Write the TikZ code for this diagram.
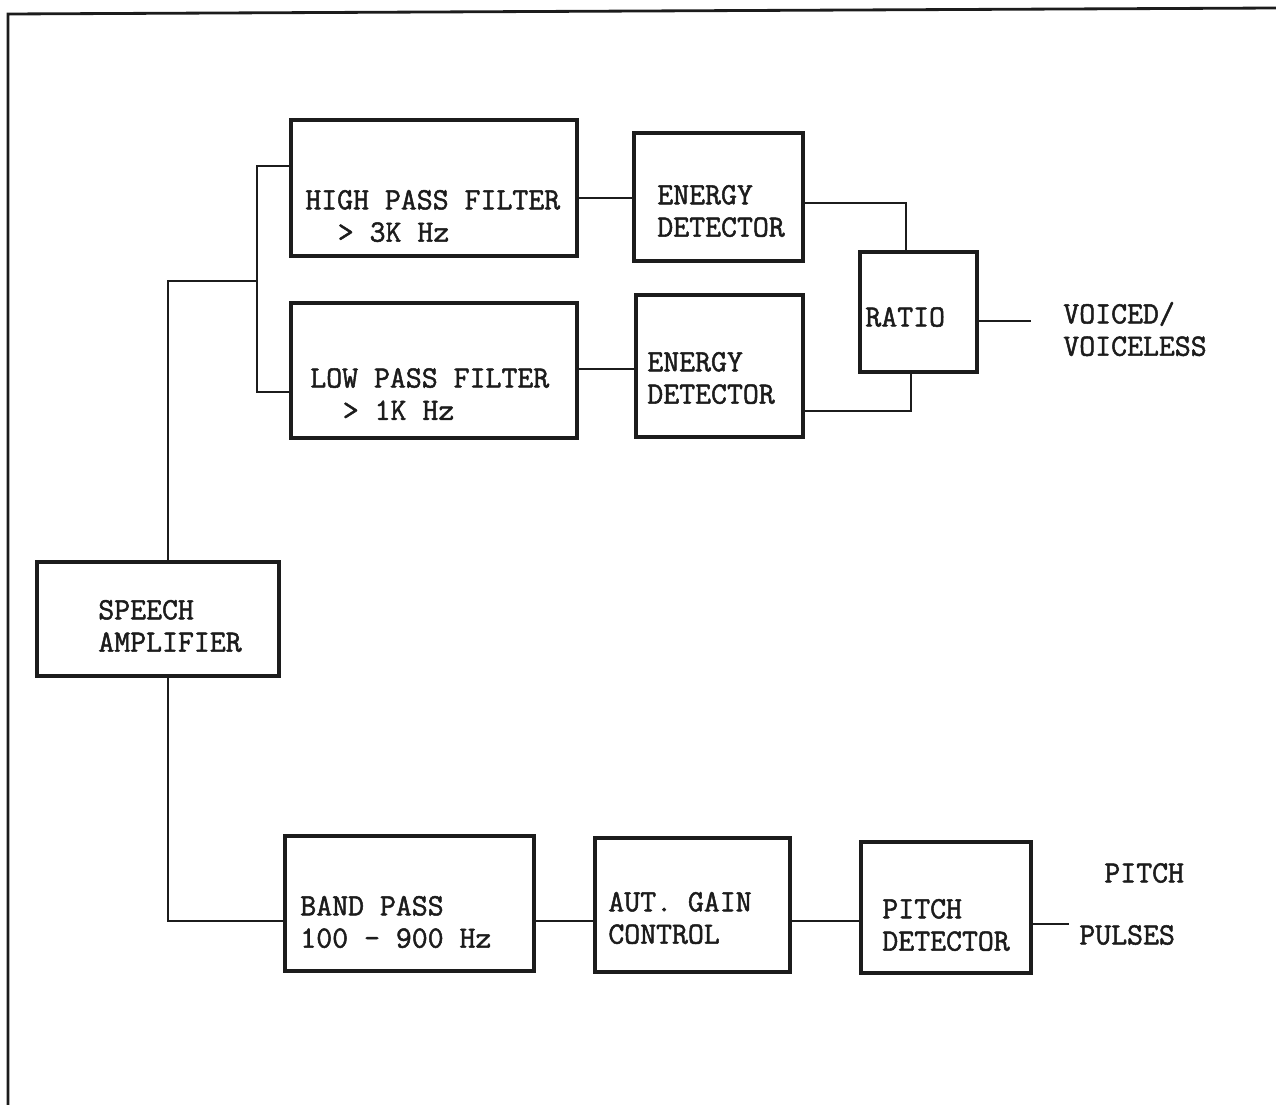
\documentclass[tikz,border=0pt]{standalone}
\usepackage{fontspec}
\usetikzlibrary{fit}
\newfontfamily\typer{Latin Modern Mono}[FakeBold=1.6]
\definecolor{typeink}{HTML}{1C1C1C}

\begin{document}
\begin{tikzpicture}[x=0.02cm,y=-0.02cm,
        blk/.style={draw=typeink,line width=1.8pt,inner sep=0pt},
        wire/.style={draw=typeink,line width=1.4pt},
        lbl/.style={font=\typer\fontsize{17.6}{18.4}\selectfont,text=typeink,
          align=left,anchor=west,inner sep=0pt}]
        \useasboundingbox (0,0) rectangle (1276,1105);
        \draw[typeink,line width=1.6pt] (8,1105) -- (8,14) -- (1276,8);

        \node[blk,fit={(37,562) (279,676)}] (amp) {};
        \node[blk,fit={(291,120) (577,256)}] (hpf) {};
        \node[blk,fit={(291,303) (577,438)}] (lpf) {};
        \node[blk,fit={(634,133) (803,261)}] (ed1) {};
        \node[blk,fit={(636,295) (803,437)}] (ed2) {};
        \node[blk,fit={(860,252) (977,372)}] (ratio) {};
        \node[blk,fit={(285,836) (534,971)}] (bp) {};
        \node[blk,fit={(595,838) (790,972)}] (agc) {};
        \node[blk,fit={(861,842) (1031,973)}] (pd) {};

        \node[lbl] (amp-t) at (98,626) {SPEECH\\AMPLIFIER};
        \node[lbl] (hpf-t) at (305,216) {HIGH PASS FILTER\\\hspace*{1.05em}> 3K Hz};
        \node[lbl] (lpf-t) at (310,394) {LOW PASS FILTER\\\hspace*{1.05em}> 1K Hz};
        \node[lbl] (ed1-t) at (657,211) {ENERGY\\DETECTOR};
        \node[lbl] (ed2-t) at (647,378) {ENERGY\\DETECTOR};
        \node[lbl] (ratio-t) at (865,317) {RATIO};
        \node[lbl] (vv) at (1063,329) {VOICED/\\VOICELESS};
        \node[lbl] (bp-t) at (300,922) {BAND PASS\\100 – 900 Hz};
        \node[lbl] (agc-t) at (608,918) {AUT. GAIN\\CONTROL};
        \node[lbl] (pd-t) at (882,925) {PITCH\\DETECTOR};
        \node[lbl] (pitch) at (1104,873) {PITCH};
        \node[lbl] (pulses) at (1079,935) {PULSES};

        \coordinate (tap) at (168,281);
        \coordinate (bus) at (257,281);
        \coordinate (hin) at (257,166);
        \coordinate (lin) at (257,392);
        \coordinate (h1) at (600,198);
        \coordinate (l1) at (600,369);
        \coordinate (r1) at (906,203);
        \coordinate (r2) at (911,411);
        \coordinate (vout) at (1031,321);
        \coordinate (low) at (168,921);
        \coordinate (pout) at (1069,924);

        \draw[wire] (tap |- amp.north) -- (tap) -- (bus);
        \draw[wire] (hin -| hpf.west) -- (hin) -- (lin) -- (lin -| lpf.west);
        \draw[wire] (h1 -| hpf.east) -- (h1 -| ed1.west);
        \draw[wire] (l1 -| lpf.east) -- (l1 -| ed2.west);
        \draw[wire] (r1 -| ed1.east) -- (r1) -- (r1 |- ratio.north);
        \draw[wire] (r2 -| ed2.east) -- (r2) -- (r2 |- ratio.south);
        \draw[wire] (vout -| ratio.east) -- (vout);
        \draw[wire] (low |- amp.south) -- (low) -- (low -| bp.west);
        \draw[wire] (low -| bp.east) -- (low -| agc.west);
        \draw[wire] (low -| agc.east) -- (low -| pd.west);
        \draw[wire] (pout -| pd.east) -- (pout);
      \end{tikzpicture}
\end{document}
